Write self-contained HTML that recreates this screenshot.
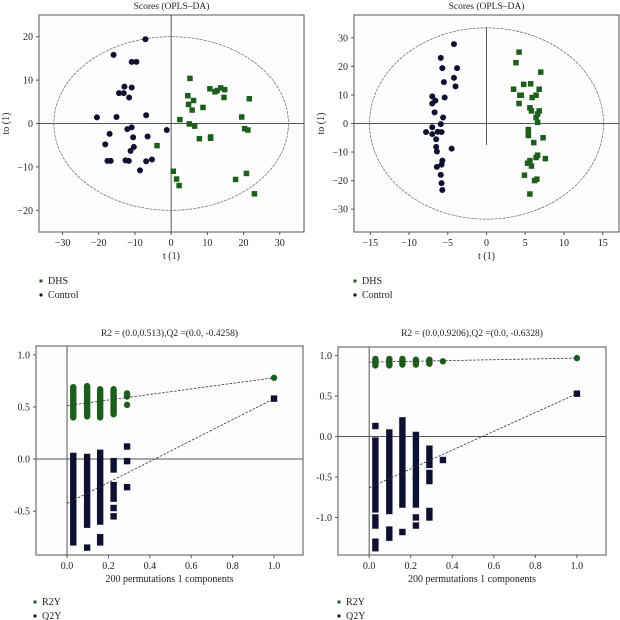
<!DOCTYPE html>
<html><head><meta charset="utf-8"><style>
html,body{margin:0;padding:0;background:#fff;}
svg{display:block;}
svg text{font-family:"Liberation Serif","DejaVu Serif",serif;}
</style></head><body>
<svg id="c" width="620" height="620" viewBox="0 0 620 620"></svg>
<script>
// ---- Panel A data (t1, to1) ----
const aControlX=[-7.1,-15.9,-10.9,-9.6,-12.9,-10.9,-14.4,-13.1,-11.6,-20.5,-15.1,-6.9,-1.2,-12.1,-10.9,-17,-10.5,-6.5,-18.2,-10.3,-11.2,-17.6,-16.7,-12.6,-11.7,-6.9,-5.3,-8.6];
const aControlY=[19.4,15.8,14.2,14.2,8.5,8.3,7,7,6,1.4,1.5,1.9,-1.5,-1.3,-0.9,-2.4,-3.2,-3,-4.8,-5.4,-6.3,-8.6,-8.6,-8.5,-8.6,-8.7,-8.3,-10.8];
const aDhsX=[5.2,4.6,4.8,6.2,5.8,8.8,2.4,5,6.5,7.8,10.9,10.9,10.7,12.1,12.7,13.7,14.8,14.6,21.6,19.5,20.3,21.2,-3.9,0.6,1.5,2.2,17.8,20.8,23];
const aDhsY=[10.4,6.4,4.4,5.3,3.1,3.7,0.9,-0.1,-0.6,-3.5,-3.1,-3.4,8,7.3,7.6,8.2,7.8,6,5.7,1.5,-1.2,-1.5,-5.1,-11,-12.8,-14.3,-12.9,-11.5,-16.2];
const aXTicks=[-30,-20,-10,0,10,20,30];
const aYTicks=[-20,-10,0,10,20];
// ---- Panel B data ----
const bControlX=[-4.2,-5.9,-5.7,-3.8,-4.2,-4,-5.5,-5.4,-7,-6.6,-7,-6.7,-5.6,-5.9,-7,-7.8,-7,-6.3,-5.8,-6.5,-6.5,-6.4,-4.5,-5.7,-5.8,-6.4,-5.9,-5.8,-5.7];
const bControlY=[27.8,23,19.4,19.4,16,13,14.5,9.1,9.5,8,7,3.9,2.1,-0.2,-1.3,-3,-3.7,-2.9,-3,-5.5,-8.2,-9.8,-8.8,-13,-14.4,-15.2,-18,-20.9,-23.3];
const bDhsX=[4.2,3.8,7,4.8,5.7,3.5,6.8,4.3,4.5,4.2,5.9,6.4,5.6,5.8,6.8,6.6,6.4,6.6,5.4,5.4,5.4,7.3,6.1,7.6,6.6,6.4,5.6,5.3,5.8,4.9,6.2,6.5,5.6];
const bDhsY=[25,21.3,18,13.7,13.9,12,12,9.9,9.9,7,9.1,9.9,5.5,4.4,4.4,3.3,2.1,0.4,-2.1,-3.5,-4.2,-5,-6.7,-12.3,-11.1,-11.9,-13,-13.9,-14.9,-18.1,-20,-19.5,-24.7];
const bXTicks=[-15,-10,-5,0,5,10,15];
const bYTicks=[-30,-20,-10,0,10,20,30];
// ---- Panel C permutation data (column x, segments [lo,hi]) ----
const cColX=[0.03,0.097,0.16,0.225,0.29];
const cR2Seg=[[[0.4,0.69]],[[0.41,0.7]],[[0.4,0.67]],[[0.43,0.67]],[[0.52,0.52],[0.6,0.63]]];
const cQ2Seg=[[[-0.8,0.03]],[[-0.63,0.02],[-0.85,-0.85]],[[-0.6,0.06],[-0.8,-0.75]],[[-0.1,-0.02],[-0.38,-0.25],[-0.47,-0.47],[-0.55,-0.55]],[[0.12,0.12],[-0.02,-0.02],[-0.27,-0.27]]];
const cR2Final=[1.0,0.78], cQ2Final=[1.0,0.58];
const cR2Line=[0.513,0.78], cQ2Line=[-0.4258,0.58];
const cXTicks=[0,0.2,0.4,0.6,0.8,1.0];
const cYTicks=[-0.5,0,0.5,1.0];
// ---- Panel D ----
const dColX=[0.03,0.097,0.16,0.225,0.29,0.355];
const dR2Seg=[[[0.88,0.96]],[[0.88,0.96]],[[0.89,0.96]],[[0.89,0.95]],[[0.9,0.95]],[[0.93,0.93]]];
const dQ2Seg=[[[0.13,0.13],[-0.9,-0.05],[-1.1,-1.0],[-1.38,-1.3]],[[-0.12,0.05],[-0.92,-0.18],[-1.25,-1.15]],[[-0.84,0.2],[-1.18,-1.18]],[[-0.1,0.02],[-0.35,-0.17],[-0.5,-0.42],[-0.77,-0.55],[-0.84,-0.84],[-1.0,-1.0],[-1.1,-1.1]],[[-0.35,-0.15],[-0.55,-0.45],[-1.0,-0.92]],[[-0.29,-0.29]]];
const dR2Final=[1.0,0.97], dQ2Final=[1.0,0.53];
const dR2Line=[0.92,0.97], dQ2Line=[-0.6328,0.53];
const dXTicks=[0,0.2,0.4,0.6,0.8,1.0];
const dYTicks=[-1.0,-0.5,0,0.5,1.0];

const NS="http://www.w3.org/2000/svg";
const svg=document.getElementById('c');
const NAVY="#0d1030", GREEN="#1d5e1d", AX="#555";
function el(tag,attrs,parent){const e=document.createElementNS(NS,tag);for(const k in attrs)e.setAttribute(k,attrs[k]);(parent||svg).appendChild(e);return e;}
function txt(s,x,y,size,anchor,parent){const t=el('text',{x:x,y:y,'font-size':size,'text-anchor':anchor||'middle',fill:'#222','font-family':'Liberation Serif, serif'},parent);t.textContent=s;return t;}
function fmt(v,d){return d?v.toFixed(1):String(v);}

function panel(name,box,xr,yr,xt,yt,dec,title,xlabel,ylabel,legend){
  const g=el('g',{});
  
  
  const sx=v=>box.x0+(v-xr[0])/(xr[1]-xr[0])*(box.x1-box.x0);
  const sy=v=>box.y1-(v-yr[0])/(yr[1]-yr[0])*(box.y1-box.y0);
  const r=el('rect',{x:box.x0,y:box.y0,width:box.x1-box.x0,height:box.y1-box.y0,fill:'#fdfdfd',stroke:AX,'stroke-width':1},g);
  
  
  xt.forEach(v=>{const X=sx(v);el('line',{x1:X,x2:X,y1:box.y1,y2:box.y1+3,stroke:AX},g);
    const t=txt(dec?fmt(v,1):(v<0?'\u2212'+(-v):v),X,box.y1+14,10,'middle',g);
    });
  yt.forEach(v=>{const Y=sy(v);el('line',{x1:box.x0-3,x2:box.x0,y1:Y,y2:Y,stroke:AX},g);
    const t=txt(dec?(v<0?'-':'')+Math.abs(v).toFixed(1):(v<0?'\u2212'+(-v):v),box.x0-6,Y+3.5,10,'end',g);
    });
  const tt=txt(title,(box.x0+box.x1)/2,title.startsWith('R2')?336:9,9.5,'middle',g);
  
  const xl=txt(xlabel,(box.x0+box.x1)/2,box.y1+27,10,'middle',g);
  
  if(ylabel){const yl=txt(ylabel,0,0,10,'middle',g);yl.setAttribute('transform','translate('+(box.x0-30)+','+((box.y0+box.y1)/2)+') rotate(-90)');
    }
  legend.forEach((L,i)=>{const y=box.legY+i*14;
    const lg=el('g',{},g);
    if(L[2]==='sq')el('rect',{x:box.legX-1.5,y:y-4.5,width:3,height:3,fill:L[1]},lg);else el('circle',{cx:box.legX,cy:y-3,r:1.6,fill:L[1]},lg);
    txt(L[0],box.legX+7,y,10,'start',lg);});
  return {g,sx,sy};
}
function sq(g,x,y,c,s){const e=el('rect',{x:x-s/2,y:y-s/2,width:s,height:s,fill:c},g);return e;}

// Panel A
(function(){
  const box={x0:39,x1:304,y0:15,y1:232,legX:41,legY:284};
  const p=panel('scores-plot-a',box,[-36.5,36.7],[-25,25],aXTicks,aYTicks,false,'Scores (OPLS\u2013DA)','t (1)','to (1)',[['DHS',GREEN,'sq'],['Control',NAVY,'c']]);
  el('line',{x1:p.sx(0),x2:p.sx(0),y1:box.y0,y2:box.y1,stroke:AX},p.g);
  el('line',{x1:box.x0,x2:box.x1,y1:p.sy(0),y2:p.sy(0),stroke:AX},p.g);
  const e=el('ellipse',{cx:p.sx(0),cy:p.sy(0),rx:p.sx(32.4)-p.sx(0),ry:p.sy(0)-p.sy(20),fill:'none',stroke:'#666','stroke-width':0.7,'stroke-dasharray':'3 1'},p.g);
  
  aControlX.forEach((v,i)=>{const c=el('circle',{cx:p.sx(v),cy:p.sy(aControlY[i]),r:3,fill:NAVY},p.g);
    });
  aDhsX.forEach((v,i)=>{const c=sq(p.g,p.sx(v),p.sy(aDhsY[i]),GREEN,5.5);
    });
})();
// Panel B
(function(){
  const box={x0:354,x1:619,y0:15,y1:232,legX:355,legY:284};
  const p=panel('scores-plot-b',box,[-17.1,17.1],[-38,38],bXTicks,bYTicks,false,'Scores (OPLS\u2013DA)','t (1)','to (1)',[['DHS',GREEN,'sq'],['Control',NAVY,'c']]);
  el('line',{x1:p.sx(0),x2:p.sx(0),y1:box.y0+12,y2:p.sy(-7.5),stroke:AX},p.g);
  el('line',{x1:box.x0,x2:box.x1,y1:p.sy(0),y2:p.sy(0),stroke:AX},p.g);
  const e=el('ellipse',{cx:p.sx(0),cy:p.sy(0),rx:p.sx(15.1)-p.sx(0),ry:p.sy(0)-p.sy(33.5),fill:'none',stroke:'#666','stroke-width':0.7,'stroke-dasharray':'3 1'},p.g);
  
  bControlX.forEach((v,i)=>{const c=el('circle',{cx:p.sx(v),cy:p.sy(bControlY[i]),r:3,fill:NAVY},p.g);
    });
  bDhsX.forEach((v,i)=>{const c=sq(p.g,p.sx(v),p.sy(bDhsY[i]),GREEN,5.5);
    });
})();
// Permutation panels
function perm(name,box,yr,colX,r2s,q2s,r2f,q2f,r2l,q2l,xt,yt,title){
  const p=panel(name,box,[-0.15,1.14],yr,xt,yt,true,title,'200 permutations 1 components',null,[['R2Y',GREEN,'sq'],['Q2Y',NAVY,'c']]);
  el('line',{x1:p.sx(0),x2:p.sx(0),y1:box.y0,y2:box.y1,stroke:AX},p.g);
  el('line',{x1:box.x0,x2:box.x1,y1:p.sy(0),y2:p.sy(0),stroke:AX},p.g);
  colX.forEach((x,i)=>{
    r2s[i].forEach(s=>{const X=p.sx(x),Y1=p.sy(s[1]),Y0=p.sy(s[0]);
      const m=el('rect',{x:X-3.2,y:Y1-3.2,width:6.4,height:Y0-Y1+6.4,rx:3.2,fill:GREEN},p.g);
      });
    q2s[i].forEach(s=>{const X=p.sx(x),Y1=p.sy(s[1]),Y0=p.sy(s[0]);
      const m=el('rect',{x:X-3.2,y:Y1-3.2,width:6.4,height:Y0-Y1+6.4,fill:NAVY},p.g);
      });
  });
  const l1=el('line',{x1:p.sx(0),y1:p.sy(r2l[0]),x2:p.sx(1),y2:p.sy(r2l[1]),stroke:'#333','stroke-width':0.8,'stroke-dasharray':'2.5 1.5'},p.g);
  
  const l2=el('line',{x1:p.sx(0),y1:p.sy(q2l[0]),x2:p.sx(1),y2:p.sy(q2l[1]),stroke:'#333','stroke-width':0.8,'stroke-dasharray':'2.5 1.5'},p.g);
  
  const f1=el('circle',{cx:p.sx(r2f[0]),cy:p.sy(r2f[1]),r:3.2,fill:GREEN},p.g);
  
  const f2=sq(p.g,p.sx(q2f[0]),p.sy(q2f[1]),NAVY,6.4);
  
}
perm('permutation-plot-c',{x0:36,x1:303,y0:346,y1:555,legX:35,legY:605},[-0.921,1.085],cColX,cR2Seg,cQ2Seg,cR2Final,cQ2Final,cR2Line,cQ2Line,cXTicks,cYTicks,'R2 = (0.0,0.513),Q2 =(0.0, -0.4258)');
perm('permutation-plot-d',{x0:338,x1:606,y0:347,y1:555,legX:339,legY:605},[-1.464,1.107],dColX,dR2Seg,dQ2Seg,dR2Final,dQ2Final,dR2Line,dQ2Line,dXTicks,dYTicks,'R2 = (0.0,0.9206),Q2 =(0.0, -0.6328)');
</script>
</body></html>
